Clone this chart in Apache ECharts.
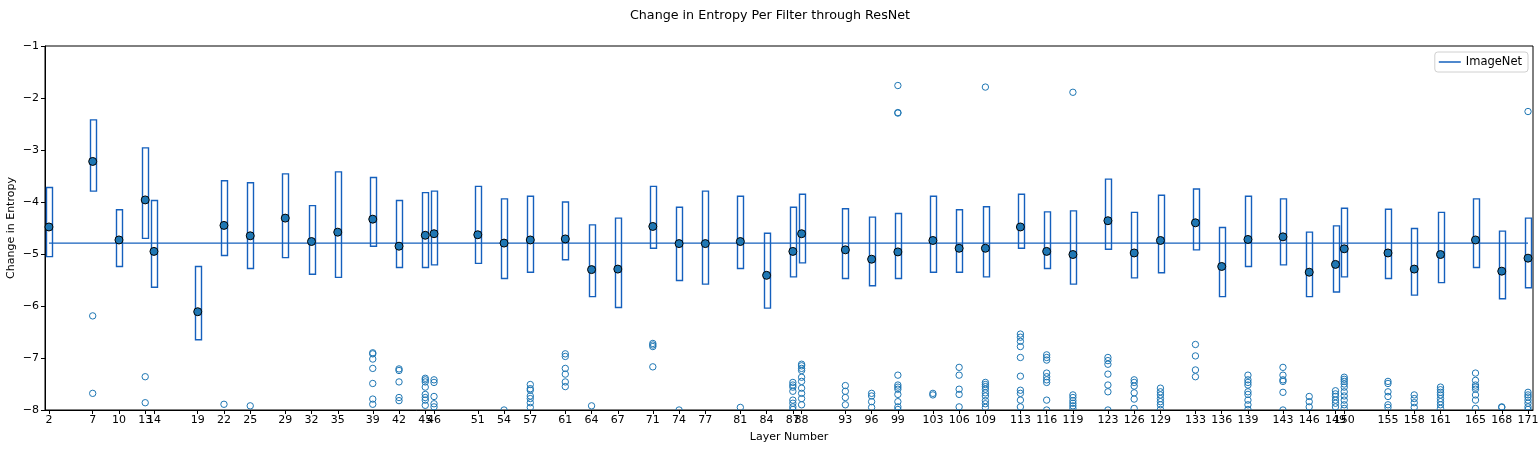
<!DOCTYPE html>
<html>
<head>
<meta charset="utf-8">
<script src="https://cdn.jsdelivr.net/npm/echarts@6/dist/echarts.min.js"></script>
<style>
html,body{margin:0;padding:0;background:#fff;}
#chart{width:1540px;height:461px;}
</style>
</head>
<body>
<div id="chart"></div>
<script>
// ---------- data ----------
const layers = [2,7,10,13,14,19,22,25,29,32,35,39,42,45,46,51,54,57,61,64,67,71,74,77,81,84,87,88,93,96,99,103,106,109,113,116,119,123,126,129,133,136,139,143,146,149,150,155,158,161,165,168,171];
const q3 = [-3.72,-2.42,-4.15,-2.96,-3.97,-5.24,-3.59,-3.63,-3.46,-4.07,-3.42,-3.53,-3.97,-3.82,-3.79,-3.70,-3.94,-3.89,-4.00,-4.44,-4.31,-3.70,-4.10,-3.79,-3.89,-4.60,-4.10,-3.85,-4.13,-4.29,-4.22,-3.89,-4.15,-4.09,-3.85,-4.19,-4.17,-3.56,-4.20,-3.87,-3.75,-4.49,-3.89,-3.94,-4.58,-4.46,-4.12,-4.14,-4.51,-4.20,-3.94,-4.56,-4.31];
const q1 = [-5.05,-3.79,-5.24,-4.70,-5.64,-6.65,-5.03,-5.28,-5.07,-5.39,-5.45,-4.85,-5.26,-5.26,-5.21,-5.18,-5.47,-5.35,-5.11,-5.82,-6.03,-4.89,-5.51,-5.58,-5.28,-6.04,-5.44,-5.17,-5.47,-5.61,-5.47,-5.35,-5.35,-5.44,-4.89,-5.28,-5.58,-4.91,-5.46,-5.36,-4.92,-5.82,-5.24,-5.21,-5.82,-5.73,-5.44,-5.47,-5.79,-5.55,-5.26,-5.86,-5.65];
const medians = [-4.48,-3.22,-4.73,-3.96,-4.95,-6.11,-4.45,-4.65,-4.31,-4.76,-4.58,-4.33,-4.85,-4.64,-4.61,-4.63,-4.79,-4.73,-4.71,-5.30,-5.29,-4.47,-4.80,-4.80,-4.76,-5.41,-4.95,-4.61,-4.92,-5.10,-4.96,-4.74,-4.89,-4.89,-4.48,-4.95,-5.01,-4.36,-4.98,-4.74,-4.40,-5.24,-4.72,-4.67,-5.35,-5.20,-4.90,-4.98,-5.29,-5.01,-4.73,-5.33,-5.08];
const outliers = [
  [],
  [-6.19,-7.68],
  [],
  [-7.36,-7.86],
  [],
  [],
  [-7.89],
  [-7.92],
  [],
  [],
  [],
  [-6.90,-6.92,-7.02,-7.20,-7.49,-7.79,-7.89],
  [-7.21,-7.24,-7.46,-7.76,-7.82],
  [-7.39,-7.42,-7.46,-7.56,-7.70,-7.76,-7.81,-7.91],
  [-7.42,-7.47,-7.74,-7.88,-7.94],
  [],
  [-8.0],
  [-7.51,-7.59,-7.62,-7.73,-7.78,-7.86,-7.95],
  [-6.92,-6.97,-7.20,-7.31,-7.46,-7.55],
  [-7.92],
  [],
  [-6.72,-6.75,-6.78,-7.17],
  [-8.0],
  [],
  [-7.95],
  [],
  [-7.47,-7.52,-7.56,-7.64,-7.81,-7.87,-7.94,-7.99],
  [-7.12,-7.15,-7.20,-7.24,-7.37,-7.45,-7.58,-7.68,-7.78,-7.90],
  [-7.53,-7.64,-7.76,-7.90],
  [-7.68,-7.73,-7.84,-7.95],
  [-1.76,-2.28,-2.29,-7.33,-7.52,-7.56,-7.60,-7.70,-7.84,-7.94,-7.99],
  [-7.68,-7.71],
  [-7.18,-7.33,-7.60,-7.70,-7.94],
  [-1.79,-7.47,-7.51,-7.55,-7.60,-7.67,-7.73,-7.82,-7.88,-7.95],
  [-6.54,-6.60,-6.68,-6.78,-6.99,-7.35,-7.62,-7.68,-7.81,-7.94],
  [-6.94,-6.99,-7.04,-7.29,-7.36,-7.42,-7.47,-7.81,-8.0],
  [-1.89,-7.71,-7.76,-7.82,-7.87,-7.92,-7.97],
  [-6.99,-7.05,-7.12,-7.31,-7.52,-7.65,-8.0],
  [-7.42,-7.47,-7.54,-7.67,-7.79,-7.97],
  [-7.58,-7.65,-7.71,-7.78,-7.84,-7.90,-7.99],
  [-6.74,-6.96,-7.23,-7.36],
  [],
  [-7.33,-7.42,-7.47,-7.52,-7.65,-7.70,-7.81,-7.90,-7.99],
  [-7.18,-7.33,-7.42,-7.45,-7.66,-8.0],
  [-7.74,-7.84,-7.94],
  [-7.63,-7.69,-7.74,-7.81,-7.87,-7.94],
  [-7.37,-7.41,-7.45,-7.50,-7.56,-7.65,-7.73,-7.81,-7.90,-7.97],
  [-7.45,-7.49,-7.65,-7.74,-7.90,-7.95],
  [-7.71,-7.78,-7.86,-7.95],
  [-7.56,-7.61,-7.66,-7.71,-7.78,-7.84,-7.90,-7.97],
  [-7.29,-7.43,-7.52,-7.56,-7.60,-7.71,-7.81,-7.97],
  [-7.94,-7.95],
  [-2.26,-7.66,-7.71,-7.75,-7.81,-7.87,-7.94,-7.99]
];
const imagenetValue = -4.79;

// ---------- styles ----------
const BOX_COLOR = '#1560bd';
const POINT_COLOR = '#1f77b4';
const BOX_HALF = 0.33;
const FONT = 'DejaVu Sans';

const boxData = layers.map((l, i) => [l, q1[i], q3[i]]);
const medianData = layers.map((l, i) => [l, medians[i]]);
const outlierData = [];
layers.forEach((l, i) => outliers[i].forEach(v => outlierData.push([l, v])));

const chart = echarts.init(document.getElementById('chart'), null, {renderer: 'canvas'});
const minus = v => (v < 0 ? '\u2212' + Math.abs(v) : String(v));

chart.setOption({
  animation: false,
  backgroundColor: '#fff',
  textStyle: {fontFamily: FONT},
  title: {
    text: 'Change in Entropy Per Filter through ResNet',
    left: 'center', top: 4,
    textStyle: {fontFamily: FONT, fontSize: 12.7, fontWeight: 'normal', color: '#000'}
  },
  legend: {
    data: [{name: 'ImageNet', icon: 'rect'}],
    right: 12, top: 52,
    itemWidth: 22, itemHeight: 1.5, itemGap: 8,
    padding: [4, 6, 4, 4],
    borderColor: '#d0d0d0', borderWidth: 1, borderRadius: 3,
    backgroundColor: '#fff',
    textStyle: {fontFamily: FONT, fontSize: 11.5, color: '#000'}
  },
  grid: {left: 45, right: 7, top: 46, bottom: 51, outerBoundsMode: 'none', containLabel: false,
         show: true, borderColor: '#000', borderWidth: 1, backgroundColor: 'transparent'},
  xAxis: {
    type: 'value', min: 1.55, max: 171.57,
    name: 'Layer Number', nameLocation: 'middle', nameGap: 22,
    nameTextStyle: {fontFamily: FONT, fontSize: 11, color: '#000'},
    axisLine: {show: true, onZero: false, lineStyle: {color: '#000', width: 1}},
    axisTick: {show: true, length: 4, customValues: layers, lineStyle: {color: '#000'}},
    axisLabel: {customValues: layers, fontFamily: FONT, fontSize: 11, color: '#000', margin: 5, hideOverlap: false},
    splitLine: {show: false}
  },
  yAxis: {
    type: 'value', min: -8, max: -1, interval: 1,
    name: 'Change in Entropy', nameLocation: 'middle', nameGap: 28, nameRotate: 90,
    nameMoveOverlap: false,
    nameTextStyle: {fontFamily: FONT, fontSize: 11, color: '#000'},
    axisLine: {show: true, onZero: false, lineStyle: {color: '#000', width: 1}},
    axisTick: {show: true, length: 4, lineStyle: {color: '#000'}},
    axisLabel: {formatter: minus, fontFamily: FONT, fontSize: 11, color: '#000', margin: 6},
    splitLine: {show: false}
  },
  series: [
    {
      name: 'boxes', type: 'custom', z: 1, clip: true,
      data: boxData,
      encode: {x: 0, y: [1, 2]},
      renderItem: (params, api) => {
        const x = api.value(0), lo = api.value(1), hi = api.value(2);
        const a = api.coord([x - BOX_HALF, hi]);
        const b = api.coord([x + BOX_HALF, lo]);
        return {
          type: 'rect',
          shape: {x: Math.round(a[0]) + 0.5, y: a[1], width: Math.round(b[0] - a[0]), height: b[1] - a[1]},
          style: {fill: '#fff', stroke: BOX_COLOR, lineWidth: 1.4}
        };
      }
    },
    {
      name: 'ImageNet', type: 'line', z: 2,
      data: [[layers[0], imagenetValue], [layers[layers.length - 1], imagenetValue]],
      showSymbol: false, symbol: 'none',
      lineStyle: {color: BOX_COLOR, width: 1.3},
      itemStyle: {color: BOX_COLOR}
    },
    {
      name: 'outliers', type: 'custom', z: 3, clip: true,
      data: outlierData,
      encode: {x: 0, y: 1},
      renderItem: (params, api) => {
        const p = api.coord([api.value(0), api.value(1)]);
        return {
          type: 'circle',
          shape: {cx: p[0], cy: p[1], r: 3.2},
          style: {fill: 'none', stroke: POINT_COLOR, lineWidth: 1}
        };
      }
    },
    {
      name: 'medians', type: 'scatter', z: 4,
      data: medianData,
      symbol: 'circle', symbolSize: 8,
      itemStyle: {color: POINT_COLOR, borderColor: '#000', borderWidth: 1, opacity: 1}
    }
  ]
});
</script>
</body>
</html>
